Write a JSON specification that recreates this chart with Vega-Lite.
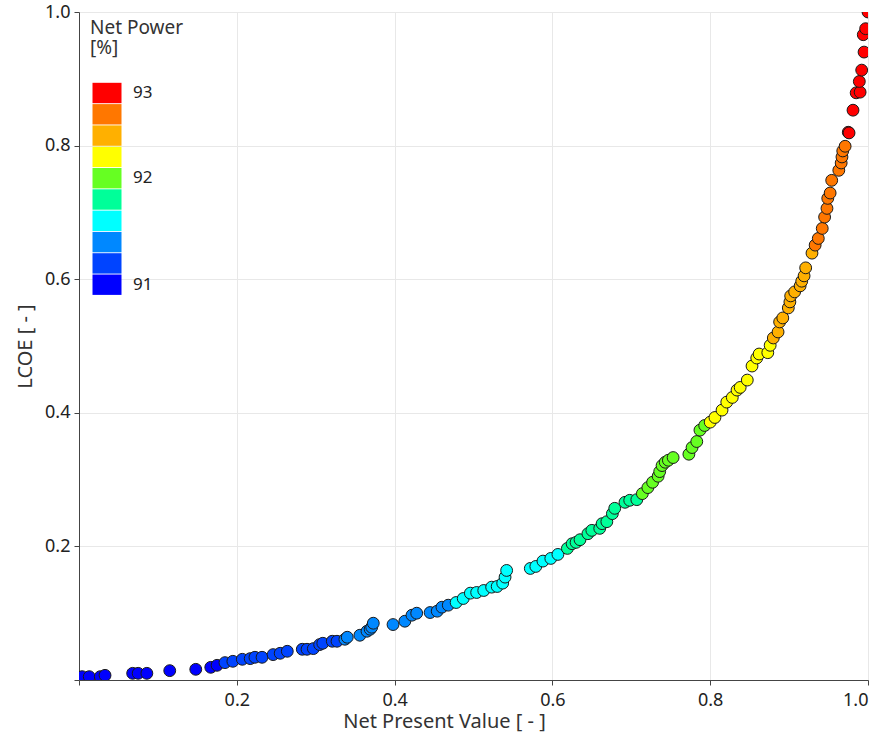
{
  "$schema": "https://vega.github.io/schema/vega-lite/v6.json",
  "width": 789,
  "height": 668,
  "autosize": "none",
  "padding": {"left": 79, "top": 12, "right": 28, "bottom": 57},
  "background": "white",
  "config": {
    "font": "Noto Sans",
    "view": {"stroke": null},
    "axis": {
      "labelFont": "Noto Sans",
      "titleFont": "Noto Sans",
      "labelFontSize": 18,
      "titleFontSize": 20,
      "titleFontWeight": "normal",
      "labelColor": "#222",
      "titleColor": "#333",
      "domainColor": "#444",
      "tickColor": "#444",
      "gridColor": "#e8e8e8",
      "tickSize": 5
    }
  },
  "data": {
    "values": [
      {"npv": 0.004, "lcoe": 0.005, "power": "91"},
      {"npv": 0.013, "lcoe": 0.005, "power": "91"},
      {"npv": 0.027, "lcoe": 0.005, "power": "91"},
      {"npv": 0.033, "lcoe": 0.007, "power": "91"},
      {"npv": 0.068, "lcoe": 0.010, "power": "91"},
      {"npv": 0.075, "lcoe": 0.010, "power": "91"},
      {"npv": 0.086, "lcoe": 0.010, "power": "91"},
      {"npv": 0.115, "lcoe": 0.014, "power": "91"},
      {"npv": 0.148, "lcoe": 0.016, "power": "91"},
      {"npv": 0.167, "lcoe": 0.019, "power": "91"},
      {"npv": 0.175, "lcoe": 0.022, "power": "91"},
      {"npv": 0.185, "lcoe": 0.026, "power": "91.2"},
      {"npv": 0.195, "lcoe": 0.028, "power": "91.2"},
      {"npv": 0.207, "lcoe": 0.031, "power": "91.2"},
      {"npv": 0.217, "lcoe": 0.032, "power": "91.2"},
      {"npv": 0.223, "lcoe": 0.034, "power": "91.2"},
      {"npv": 0.232, "lcoe": 0.034, "power": "91.2"},
      {"npv": 0.246, "lcoe": 0.038, "power": "91.2"},
      {"npv": 0.255, "lcoe": 0.040, "power": "91.2"},
      {"npv": 0.264, "lcoe": 0.043, "power": "91.2"},
      {"npv": 0.283, "lcoe": 0.046, "power": "91.2"},
      {"npv": 0.289, "lcoe": 0.046, "power": "91.2"},
      {"npv": 0.297, "lcoe": 0.047, "power": "91.2"},
      {"npv": 0.305, "lcoe": 0.053, "power": "91.2"},
      {"npv": 0.309, "lcoe": 0.055, "power": "91.2"},
      {"npv": 0.321, "lcoe": 0.058, "power": "91.2"},
      {"npv": 0.327, "lcoe": 0.058, "power": "91.2"},
      {"npv": 0.337, "lcoe": 0.061, "power": "91.4"},
      {"npv": 0.340, "lcoe": 0.064, "power": "91.4"},
      {"npv": 0.356, "lcoe": 0.067, "power": "91.4"},
      {"npv": 0.365, "lcoe": 0.073, "power": "91.4"},
      {"npv": 0.369, "lcoe": 0.076, "power": "91.4"},
      {"npv": 0.371, "lcoe": 0.079, "power": "91.4"},
      {"npv": 0.373, "lcoe": 0.085, "power": "91.4"},
      {"npv": 0.398, "lcoe": 0.083, "power": "91.4"},
      {"npv": 0.413, "lcoe": 0.088, "power": "91.4"},
      {"npv": 0.422, "lcoe": 0.097, "power": "91.4"},
      {"npv": 0.428, "lcoe": 0.100, "power": "91.4"},
      {"npv": 0.445, "lcoe": 0.101, "power": "91.4"},
      {"npv": 0.454, "lcoe": 0.103, "power": "91.4"},
      {"npv": 0.460, "lcoe": 0.109, "power": "91.4"},
      {"npv": 0.468, "lcoe": 0.112, "power": "91.4"},
      {"npv": 0.478, "lcoe": 0.116, "power": "91.6"},
      {"npv": 0.487, "lcoe": 0.122, "power": "91.6"},
      {"npv": 0.496, "lcoe": 0.130, "power": "91.6"},
      {"npv": 0.504, "lcoe": 0.131, "power": "91.6"},
      {"npv": 0.513, "lcoe": 0.134, "power": "91.6"},
      {"npv": 0.523, "lcoe": 0.139, "power": "91.6"},
      {"npv": 0.530, "lcoe": 0.140, "power": "91.6"},
      {"npv": 0.537, "lcoe": 0.145, "power": "91.6"},
      {"npv": 0.540, "lcoe": 0.154, "power": "91.6"},
      {"npv": 0.542, "lcoe": 0.164, "power": "91.6"},
      {"npv": 0.572, "lcoe": 0.167, "power": "91.6"},
      {"npv": 0.579, "lcoe": 0.170, "power": "91.6"},
      {"npv": 0.588, "lcoe": 0.178, "power": "91.6"},
      {"npv": 0.598, "lcoe": 0.182, "power": "91.6"},
      {"npv": 0.607, "lcoe": 0.188, "power": "91.6"},
      {"npv": 0.619, "lcoe": 0.197, "power": "91.8"},
      {"npv": 0.625, "lcoe": 0.204, "power": "91.8"},
      {"npv": 0.630, "lcoe": 0.206, "power": "91.8"},
      {"npv": 0.635, "lcoe": 0.210, "power": "91.8"},
      {"npv": 0.645, "lcoe": 0.219, "power": "91.8"},
      {"npv": 0.650, "lcoe": 0.224, "power": "91.8"},
      {"npv": 0.660, "lcoe": 0.227, "power": "91.8"},
      {"npv": 0.663, "lcoe": 0.234, "power": "91.8"},
      {"npv": 0.669, "lcoe": 0.237, "power": "91.8"},
      {"npv": 0.676, "lcoe": 0.249, "power": "91.8"},
      {"npv": 0.679, "lcoe": 0.257, "power": "91.8"},
      {"npv": 0.692, "lcoe": 0.266, "power": "91.8"},
      {"npv": 0.698, "lcoe": 0.269, "power": "91.8"},
      {"npv": 0.707, "lcoe": 0.270, "power": "91.8"},
      {"npv": 0.714, "lcoe": 0.279, "power": "92"},
      {"npv": 0.721, "lcoe": 0.288, "power": "92"},
      {"npv": 0.727, "lcoe": 0.296, "power": "92"},
      {"npv": 0.734, "lcoe": 0.305, "power": "92"},
      {"npv": 0.736, "lcoe": 0.312, "power": "92"},
      {"npv": 0.739, "lcoe": 0.321, "power": "92"},
      {"npv": 0.743, "lcoe": 0.326, "power": "92"},
      {"npv": 0.747, "lcoe": 0.329, "power": "92"},
      {"npv": 0.753, "lcoe": 0.333, "power": "92"},
      {"npv": 0.773, "lcoe": 0.338, "power": "92"},
      {"npv": 0.777, "lcoe": 0.348, "power": "92"},
      {"npv": 0.783, "lcoe": 0.357, "power": "92"},
      {"npv": 0.787, "lcoe": 0.374, "power": "92"},
      {"npv": 0.793, "lcoe": 0.381, "power": "92"},
      {"npv": 0.800, "lcoe": 0.386, "power": "92.4"},
      {"npv": 0.806, "lcoe": 0.393, "power": "92.4"},
      {"npv": 0.815, "lcoe": 0.404, "power": "92.4"},
      {"npv": 0.821, "lcoe": 0.416, "power": "92.4"},
      {"npv": 0.828, "lcoe": 0.423, "power": "92.4"},
      {"npv": 0.834, "lcoe": 0.434, "power": "92.4"},
      {"npv": 0.838, "lcoe": 0.438, "power": "92.4"},
      {"npv": 0.847, "lcoe": 0.449, "power": "92.4"},
      {"npv": 0.853, "lcoe": 0.470, "power": "92.4"},
      {"npv": 0.859, "lcoe": 0.482, "power": "92.4"},
      {"npv": 0.862, "lcoe": 0.488, "power": "92.4"},
      {"npv": 0.873, "lcoe": 0.490, "power": "92.4"},
      {"npv": 0.876, "lcoe": 0.501, "power": "92.4"},
      {"npv": 0.880, "lcoe": 0.512, "power": "92.6"},
      {"npv": 0.886, "lcoe": 0.521, "power": "92.6"},
      {"npv": 0.888, "lcoe": 0.536, "power": "92.6"},
      {"npv": 0.892, "lcoe": 0.542, "power": "92.6"},
      {"npv": 0.899, "lcoe": 0.557, "power": "92.6"},
      {"npv": 0.901, "lcoe": 0.566, "power": "92.6"},
      {"npv": 0.902, "lcoe": 0.575, "power": "92.6"},
      {"npv": 0.907, "lcoe": 0.581, "power": "92.6"},
      {"npv": 0.914, "lcoe": 0.590, "power": "92.6"},
      {"npv": 0.916, "lcoe": 0.597, "power": "92.6"},
      {"npv": 0.919, "lcoe": 0.605, "power": "92.6"},
      {"npv": 0.921, "lcoe": 0.617, "power": "92.6"},
      {"npv": 0.929, "lcoe": 0.639, "power": "92.6"},
      {"npv": 0.933, "lcoe": 0.651, "power": "92.8"},
      {"npv": 0.937, "lcoe": 0.661, "power": "92.8"},
      {"npv": 0.942, "lcoe": 0.676, "power": "92.8"},
      {"npv": 0.945, "lcoe": 0.693, "power": "92.8"},
      {"npv": 0.948, "lcoe": 0.706, "power": "92.8"},
      {"npv": 0.949, "lcoe": 0.721, "power": "92.8"},
      {"npv": 0.952, "lcoe": 0.729, "power": "92.8"},
      {"npv": 0.954, "lcoe": 0.748, "power": "92.8"},
      {"npv": 0.963, "lcoe": 0.763, "power": "92.8"},
      {"npv": 0.966, "lcoe": 0.774, "power": "92.8"},
      {"npv": 0.967, "lcoe": 0.783, "power": "92.8"},
      {"npv": 0.968, "lcoe": 0.792, "power": "92.8"},
      {"npv": 0.971, "lcoe": 0.799, "power": "92.8"},
      {"npv": 0.975, "lcoe": 0.820, "power": "93"},
      {"npv": 0.976, "lcoe": 0.819, "power": "93"},
      {"npv": 0.981, "lcoe": 0.853, "power": "93"},
      {"npv": 0.985, "lcoe": 0.879, "power": "93"},
      {"npv": 0.990, "lcoe": 0.880, "power": "93"},
      {"npv": 0.989, "lcoe": 0.896, "power": "93"},
      {"npv": 0.992, "lcoe": 0.913, "power": "93"},
      {"npv": 0.995, "lcoe": 0.940, "power": "93"},
      {"npv": 0.994, "lcoe": 0.966, "power": "93"},
      {"npv": 0.997, "lcoe": 0.975, "power": "93"},
      {"npv": 1.000, "lcoe": 1.000, "power": "93"}
    ]
  },
  "mark": {"type": "point", "shape": "circle", "filled": true, "size": 140, "opacity": 1, "stroke": "#1a1a1a", "strokeWidth": 1, "clip": true},
  "encoding": {
    "x": {
      "field": "npv", "type": "quantitative",
      "scale": {"domain": [0, 1], "nice": false, "zero": false},
      "axis": {
        "title": "Net Present Value [ - ]",
        "values": [0, 0.2, 0.4, 0.6, 0.8, 1.0],
        "labelExpr": "datum.value == 0 ? '' : format(datum.value, '.1f')",
        "labelPadding": 6,
        "titlePadding": 2,
        "titleX": 365
      }
    },
    "y": {
      "field": "lcoe", "type": "quantitative",
      "scale": {"domain": [0, 1], "nice": false, "zero": false},
      "axis": {
        "title": "LCOE [ - ]",
        "values": [0, 0.2, 0.4, 0.6, 0.8, 1.0],
        "labelExpr": "datum.value == 0 ? '' : format(datum.value, '.1f')",
        "labelPadding": 4,
        "titlePadding": 9
      }
    },
    "color": {
      "field": "power", "type": "ordinal",
      "scale": {
        "domain": ["93", "92.8", "92.6", "92.4", "92", "91.8", "91.6", "91.4", "91.2", "91"],
        "range": ["#ff0000", "#ff7700", "#ffb000", "#ffff00", "#66ff22", "#00ff99", "#00ffff", "#0088ff", "#0044ff", "#0000ff"]
      },
      "legend": {
        "title": ["Net Power", "[%]"],
        "orient": "none",
        "legendX": 11,
        "legendY": 7,
        "titleFont": "Noto Sans",
        "titleFontSize": 19,
        "titleFontWeight": "normal",
        "titleColor": "#333",
        "titleLineHeight": 20,
        "titlePadding": 25,
        "symbolType": "M-1.45,-1.02H1.45V1.02H-1.45Z",
        "symbolSize": 400,
        "symbolOffset": 7,
        "symbolStrokeWidth": 0,
        "symbolOpacity": 1,
        "rowPadding": -0.7,
        "labelFont": "Noto Sans",
        "labelFontSize": 17,
        "labelColor": "#222",
        "labelOffset": 16,
        "labelExpr": "indexof(['93','92','91'], datum.label) >= 0 ? datum.label : ''"
      }
    }
  }
}
